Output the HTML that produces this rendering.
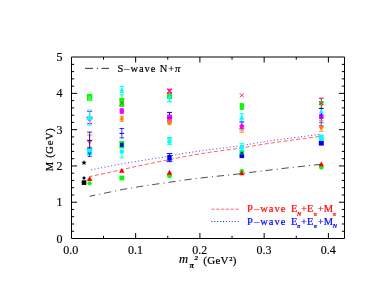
<!DOCTYPE html>
<html><head><meta charset="utf-8">
<style>
html,body{margin:0;padding:0;background:#fff;}
body{width:382px;height:295px;overflow:hidden;position:relative;font-family:"Liberation Serif",serif;}
svg{position:absolute;left:0;top:0;opacity:0.999;will-change:transform;}
text{font-family:"Liberation Serif",serif;}
</style></head><body>
<svg width="382" height="295" viewBox="0 0 382 295">
<rect width="382" height="295" fill="#fff"/>
<g stroke="#000" stroke-width="1" fill="none" shape-rendering="auto">
<path d="M71.5 57.0H344.5V238.5H71.5Z"/>
<path d="M71.5 231.24h2.7M344.5 231.24h-2.7M71.5 223.99h2.7M344.5 223.99h-2.7M71.5 216.73h2.7M344.5 216.73h-2.7M71.5 209.48h2.7M344.5 209.48h-2.7M71.5 202.22h5.5M344.5 202.22h-5.5M71.5 194.96h2.7M344.5 194.96h-2.7M71.5 187.71h2.7M344.5 187.71h-2.7M71.5 180.45h2.7M344.5 180.45h-2.7M71.5 173.20h2.7M344.5 173.20h-2.7M71.5 165.94h5.5M344.5 165.94h-5.5M71.5 158.68h2.7M344.5 158.68h-2.7M71.5 151.43h2.7M344.5 151.43h-2.7M71.5 144.17h2.7M344.5 144.17h-2.7M71.5 136.92h2.7M344.5 136.92h-2.7M71.5 129.66h5.5M344.5 129.66h-5.5M71.5 122.40h2.7M344.5 122.40h-2.7M71.5 115.15h2.7M344.5 115.15h-2.7M71.5 107.89h2.7M344.5 107.89h-2.7M71.5 100.64h2.7M344.5 100.64h-2.7M71.5 93.38h5.5M344.5 93.38h-5.5M71.5 86.12h2.7M344.5 86.12h-2.7M71.5 78.87h2.7M344.5 78.87h-2.7M71.5 71.61h2.7M344.5 71.61h-2.7M71.5 64.36h2.7M344.5 64.36h-2.7M103.53 238.5v-2.7M103.53 57.0v2.7M135.65 238.5v-5.5M135.65 57.0v5.5M167.78 238.5v-2.7M167.78 57.0v2.7M199.90 238.5v-5.5M199.90 57.0v5.5M232.03 238.5v-2.7M232.03 57.0v2.7M264.15 238.5v-5.5M264.15 57.0v5.5M296.28 238.5v-2.7M296.28 57.0v2.7M328.40 238.5v-5.5M328.40 57.0v5.5"/>
</g>
<path d="M89.6 196.3L105.9 192.9L122.7 189.4L139.5 186.6L156.2 184.1L165.0 182.9L183.7 180.1L207.5 177.2L231.2 174.8L240.0 173.7L262.1 171.0L289.2 167.7L321.2 164.3" stroke="#000" stroke-width="0.7" fill="none" stroke-dasharray="7.2 4.1 1.1 3.9" stroke-dashoffset="1.5"/>
<path d="M89.6 176.6L105.9 173.2L122.7 169.4L139.5 165.7L156.2 162.3L165.0 160.5L183.7 156.7L207.5 152.6L231.2 149.4L240.0 148.3L262.1 144.4L289.2 140.5L321.0 136.3" stroke="#f00" stroke-width="0.62" fill="none" stroke-dasharray="4.1 2.3" stroke-dashoffset="1.2"/>
<path d="M91.0 169.8L105.9 166.9L122.7 163.6L139.5 160.9L156.2 158.3L165.0 156.9L183.7 153.3L207.5 149.9L231.2 147.0L240.0 145.9L262.1 142.0L289.2 138.3L321.0 134.2" stroke="#00f" stroke-width="0.8" fill="none" stroke-dasharray="0.95 2.48"/>
<path d="M84.00 159.90L84.69 161.75L86.66 161.83L85.12 163.06L85.65 164.97L84.00 163.88L82.35 164.97L82.88 163.06L81.34 161.83L83.31 161.75Z" fill="#000"/>
<rect x="81.70" y="180.30" width="4.60" height="4.60" rx="0" fill="#000"/>
<path d="M84 176.2L85.9 178.1L84 180.0L82.1 178.1Z" fill="#000"/>
<rect x="87.00" y="93.90" width="5.20" height="7.00" rx="0" fill="#0f0"/>
<path d="M88.39999999999999 96.3l2.4 2.4m-2.4 0l2.4 -2.4M88.0 99.9h3.2" stroke="#b0ffb0" stroke-width="0.7" fill="none"/>
<path d="M89.6 111.5V123.5M87.1 111.5h5.0M87.1 123.5h5.0" stroke="#f0f" stroke-width="1" fill="none"/>
<path d="M89.6 122.7L93.0 116.75H86.19999999999999Z" fill="#f0f"/>
<path d="M89.6 110V125M87.1 110h5.0M87.1 125h5.0" stroke="#0ff" stroke-width="1" fill="none"/>
<path d="M89.6 114.10000000000001L92.89999999999999 119.875H86.3Z" fill="#0ff"/>
<path d="M89.6 135V147.3M87.1 135h5.0M87.1 147.3h5.0" stroke="#ff8000" stroke-width="1" fill="none"/>
<path d="M89.6 145L92.6 139.75H86.6Z" fill="#ff8000"/>
<path d="M89.6 132.1V149M87.1 132.1h5.0M87.1 149h5.0" stroke="#00f" stroke-width="0.85" fill="none"/>
<path d="M87.1 140.5h5" stroke="#00f" stroke-width="0.9"/>
<path d="M89.6 148V156.4M87.6 148h4.0M87.6 156.4h4.0" stroke="#00f" stroke-width="0.85" fill="none"/>
<rect x="87.10" y="148.10" width="5.00" height="7.20" rx="0" fill="#0ff"/>
<path d="M87.1 148.5h5" stroke="#00b0c0" stroke-width="0.9"/>
<path d="M89.6 155.8L91.5 152.475H87.69999999999999Z" fill="#2040ff"/>
<circle cx="89.6" cy="183.3" r="2.1" fill="#0f0"/>
<path d="M89.6 176.1L92.39999999999999 181.0H86.8Z" fill="#f00"/>
<path d="M121.8 86.5V92.6M119.6 86.5h4.4M119.6 92.6h4.4" stroke="#0ff" stroke-width="1" fill="none"/>
<path d="M121.8 87.5L124.2 91.7H119.39999999999999Z" fill="#0ff"/>
<path d="M121.8 94.9V101M119.6 94.9h4.4M119.6 101h4.4" stroke="#00ff80" stroke-width="1" fill="none"/>
<path d="M121.8 99V105.4M119.2 99h5.2M119.2 105.4h5.2" stroke="#ff0080" stroke-width="1" fill="none"/>
<rect x="119.60" y="97.90" width="4.40" height="5.00" rx="0" fill="#0f0"/>
<rect x="119.60" y="102.40" width="4.40" height="4.80" rx="0" fill="#0f0"/>
<path d="M119.89999999999999 101.3L123.7 105.10000000000001M119.89999999999999 105.10000000000001L123.7 101.3" stroke="#906830" stroke-width="1" fill="none"/>
<rect x="119.60" y="108.00" width="4.40" height="6.00" rx="1.6" fill="#f0f"/>
<path d="M121.8 116.3V121.3M119.6 116.3h4.4M119.6 121.3h4.4" stroke="#ff8000" stroke-width="1" fill="none"/>
<path d="M121.8 116.5L124.1 118.8L121.8 121.1L119.5 118.8Z" fill="#ff8000"/>
<path d="M121.8 128.5V137.9M119.5 128.5h4.6M119.5 137.9h4.6" stroke="#00f" stroke-width="0.8" fill="none"/>
<path d="M119.5 133.4h4.6" stroke="#00f" stroke-width="1"/>
<rect x="119.40" y="140.90" width="4.80" height="7.60" rx="0" fill="#0f0"/>
<rect x="120.10" y="142.80" width="3.40" height="4.20" rx="0" fill="#00f"/>
<path d="M121.8 151V157.9M119.6 157.9h4.4" stroke="#0ff" stroke-width="1" fill="none"/>
<circle cx="121.8" cy="151.6" r="2.3" fill="#0ff"/>
<rect x="119.40" y="175.60" width="4.80" height="4.80" rx="0" fill="#0f0"/>
<path d="M121.8 167.9L124.5 172.625H119.1Z" fill="#f00"/>
<path d="M167.2 88.9L171.8 93.5M167.2 93.5L171.8 88.9" stroke="#ff0080" stroke-width="1.1" fill="none"/>
<path d="M167.0 89.3h5M167.0 93.2h5" stroke="#ff0080" stroke-width="1"/>
<rect x="167.00" y="94.10" width="5.00" height="4.80" rx="0" fill="#0f0"/>
<path d="M169.5 95V101.9M167.0 101.9h5" stroke="#0ff" stroke-width="1.2" fill="none"/>
<path d="M167.9 97.5h3.2" stroke="#0ff" stroke-width="1.6" fill="none"/>
<path d="M169.5 112.4V121M167.0 112.4h5.0M167.0 121h5.0" stroke="#00f" stroke-width="1" fill="none"/>
<rect x="167.10" y="114.60" width="4.80" height="5.20" rx="0" fill="#f0f"/>
<path d="M166.9 117.6h5.2" stroke="#6000d0" stroke-width="0.8" fill="none"/>
<path d="M169.5 120.6V124.6M167.5 120.6h4M167.5 124.6h4" stroke="#ff8000" stroke-width="0.8" fill="none"/>
<circle cx="169.5" cy="122.5" r="2.3" fill="#ff8000"/>
<path d="M167.1 137.8h4.8" stroke="#00ff80" stroke-width="1.6" fill="none"/>
<path d="M169.5 139.2V144.6M167.2 139.2h4.6M167.2 144.6h4.6" stroke="#0ff" stroke-width="1" fill="none"/>
<circle cx="169.5" cy="141.8" r="2.3" fill="#0ff"/>
<path d="M169.5 153.5V161.6M166.6 153.5h5.8M166.6 161.6h5.8" stroke="#00f" stroke-width="0.9" fill="none"/>
<rect x="167.25" y="154.90" width="4.50" height="5.80" rx="0" fill="#00f"/>
<circle cx="169.5" cy="175.6" r="2.5" fill="#0f0"/>
<path d="M169.5 169.79999999999998L172.3 174.7H166.7Z" fill="#f00"/>
<path d="M239.8 93.3L243.8 97.3M239.8 97.3L243.8 93.3" stroke="#ff0080" stroke-width="0.9" fill="none"/>
<rect x="239.70" y="103.10" width="4.20" height="6.80" rx="0" fill="#0f0"/>
<path d="M241.8 113.6V121.2M239.5 113.6h4.6M239.5 121.2h4.6" stroke="#0ff" stroke-width="1" fill="none"/>
<path d="M241.8 115.1L244.5 119.825H239.10000000000002Z" fill="#0ff"/>
<path d="M241.8 122V128.8M239.4 122h4.8M239.4 128.8h4.8" stroke="#4000ff" stroke-width="0.9" fill="none"/>
<path d="M241.8 130V132.2M239.4 130h4.8M239.4 132.2h4.8" stroke="#ff8000" stroke-width="0.9" fill="none"/>
<circle cx="241.8" cy="126.3" r="2.3" fill="#f0f"/>
<path d="M241.8 143.3V150.5M239.5 143.3h4.6M239.5 150.5h4.6" stroke="#0ff" stroke-width="1" fill="none"/>
<circle cx="241.8" cy="147.5" r="2.4" fill="#0ff"/>
<rect x="239.50" y="150.80" width="4.60" height="4.20" rx="0" fill="#0f0"/>
<rect x="240.60" y="151.90" width="2.40" height="2.00" rx="0" fill="#00f"/>
<rect x="239.50" y="154.30" width="4.60" height="3.80" rx="0" fill="#00f"/>
<circle cx="241.8" cy="171.2" r="2.3" fill="#0f0"/>
<path d="M241.8 170.4L244.5 175.125H239.10000000000002Z" fill="#f00"/>
<path d="M321.3 98.2V108.3M318.90000000000003 98.2h4.8M318.90000000000003 108.3h4.8" stroke="#c01050" stroke-width="1" fill="none"/>
<rect x="319.00" y="101.00" width="4.60" height="4.40" rx="0" fill="#0f0"/>
<path d="M319.40000000000003 101.3L323.2 105.10000000000001M319.40000000000003 105.10000000000001L323.2 101.3" stroke="#ff0080" stroke-width="1" fill="none"/>
<path d="M321.3 108.5V126M319.0 108.5h4.6M319.0 126h4.6" stroke="#00f" stroke-width="0.9" fill="none"/>
<path d="M321.3 109.1L323.8 113.475H318.8Z" fill="#0ff"/>
<rect x="319.00" y="114.00" width="4.60" height="4.40" rx="1" fill="#f0f"/>
<path d="M321.3 113.5V119" stroke="#00f" stroke-width="0.9"/>
<path d="M321.3 120.7V126.4M318.90000000000003 120.7h4.8M318.90000000000003 126.4h4.8" stroke="#ff8000" stroke-width="0.9" fill="none"/>
<path d="M319.0 122.6h4.6M319.0 118.6h4.6" stroke="#6040ff" stroke-width="0.9"/>
<path d="M321.3 131.1L323.8 126.725H318.8Z" fill="#ff8000"/>
<path d="M318.90000000000003 131.3h4.8" stroke="#ff8000" stroke-width="0.9"/>
<rect x="318.80" y="134.50" width="5.00" height="6.00" rx="0" fill="#0ff"/>
<rect x="318.80" y="140.80" width="5.00" height="4.80" rx="0" fill="#00f"/>
<circle cx="321.3" cy="167.3" r="2.3" fill="#0f0"/>
<path d="M321.3 161.60000000000002L324.0 166.32500000000002H318.6Z" fill="#f00"/>
<path d="M85 68.35h8M96.9 68.35h1.2M101.4 68.35h7.6" stroke="#000" stroke-width="0.8"/>
<path d="M211.4 209.2H240" stroke="#f00" stroke-width="0.8" stroke-dasharray="3.2 1.6" opacity="0.75"/>
<path d="M211.4 221.5H240" stroke="#00f" stroke-width="0.9" stroke-dasharray="1 1.9"/>
<g font-size="12" fill="#000" text-anchor="end" stroke="#000" stroke-width="0.15">
<text x="62.4" y="61">5</text>
<text x="62.4" y="97.3">4</text>
<text x="62.4" y="133.7">3</text>
<text x="62.4" y="170">2</text>
<text x="62.4" y="206.3">1</text>
<text x="62.4" y="242.5">0</text>
</g>
<g font-size="12" fill="#000" text-anchor="middle" stroke="#000" stroke-width="0.15">
<text x="70.8" y="253.6">0.0</text>
<text x="135.4" y="253.6">0.1</text>
<text x="199.8" y="253.6">0.2</text>
<text x="264" y="253.6">0.3</text>
<text x="328.3" y="253.6">0.4</text>
</g>
<text transform="translate(53,171.2) rotate(-90)" font-size="10.5" letter-spacing="0.7" stroke="#000" stroke-width="0.2">M (GeV)</text>
<g stroke="#000" stroke-width="0.2">
<text x="179" y="263.4" font-size="12.5" font-style="italic">m</text>
<text x="189.6" y="267.8" font-size="8" font-style="italic" font-weight="bold">π</text>
<text x="194.5" y="260.3" font-size="7" font-style="italic" font-weight="bold">2</text>
<text x="203.3" y="263.5" font-size="11" letter-spacing="0.25">(GeV</text>
<text x="229.2" y="261" font-size="6.5" font-weight="bold">2</text>
<text x="232.8" y="263.5" font-size="11">)</text>
</g>
<text x="117.6" y="71.8" font-size="10.5" letter-spacing="0.9" stroke="#000" stroke-width="0.2">S–wave N+<tspan font-style="italic">π</tspan></text>
<g fill="#f00" stroke="#f00" stroke-width="0.2">
<text x="247" y="212.2" font-size="10.5" letter-spacing="1.05">P–wave</text>
<text x="291" y="212.2" font-size="10.5">E</text>
<text x="297" y="215.89999999999998" font-size="6" font-weight="bold" font-style="italic">N</text>
<text x="301" y="212.2" font-size="10.5">+E</text>
<text x="313.8" y="215.89999999999998" font-size="6" font-weight="bold" font-style="italic">π</text>
<text x="317.8" y="212.2" font-size="10.5">+M</text>
<text x="332.8" y="215.89999999999998" font-size="6" font-weight="bold" font-style="italic">π</text>
</g>
<g fill="#00f" stroke="#00f" stroke-width="0.2">
<text x="247" y="224.6" font-size="10.5" letter-spacing="1.05">P–wave</text>
<text x="291" y="224.6" font-size="10.5">E</text>
<text x="297" y="228.29999999999998" font-size="6" font-weight="bold" font-style="italic">π</text>
<text x="301" y="224.6" font-size="10.5">+E</text>
<text x="313.8" y="228.29999999999998" font-size="6" font-weight="bold" font-style="italic">π</text>
<text x="317.8" y="224.6" font-size="10.5">+M</text>
<text x="332.8" y="228.29999999999998" font-size="6" font-weight="bold" font-style="italic">N</text>
</g>
</svg>
</body></html>
